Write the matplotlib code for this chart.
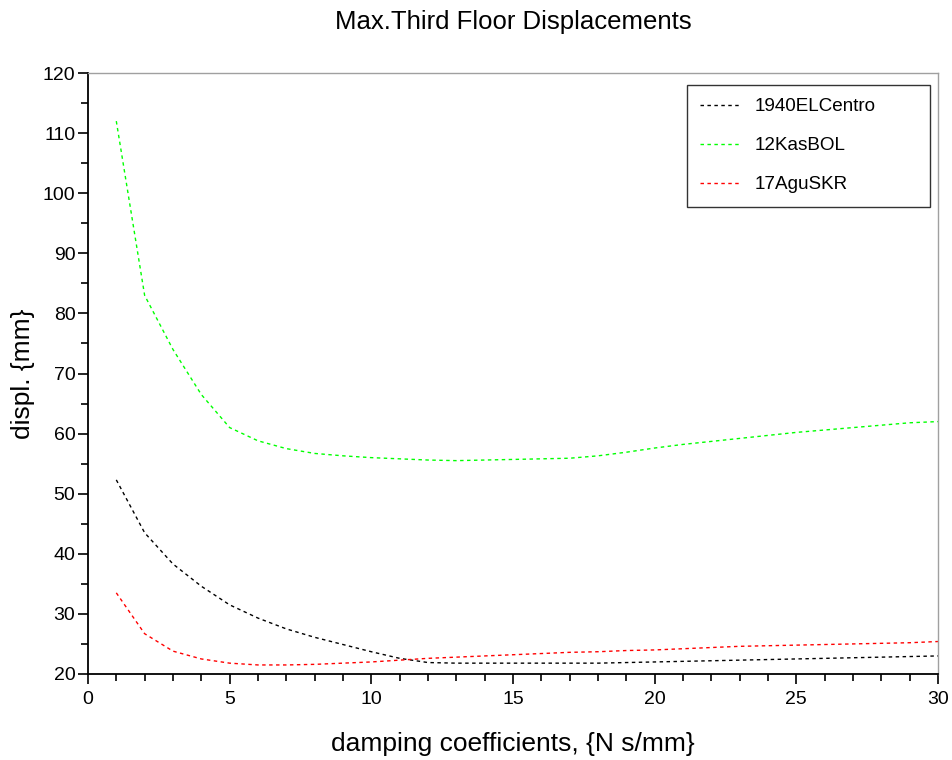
import matplotlib
matplotlib.use("Agg")
import matplotlib.pyplot as plt
from matplotlib.ticker import MultipleLocator

plt.rcParams['font.family'] = ['Liberation Sans', 'DejaVu Sans']

# damping coefficient, N s/mm
damping = list(range(1, 31))

# max third floor displacement, mm
elcentro = [52.3, 43.5, 38.3, 34.6, 31.5, 29.3, 27.5, 26.1, 24.9, 23.7,
            22.6, 21.9, 21.8, 21.8, 21.8, 21.8, 21.8, 21.8, 21.9, 22.0,
            22.1, 22.2, 22.3, 22.4, 22.5, 22.6, 22.7, 22.8, 22.9, 23.0]
kasbol = [112.0, 83.0, 74.0, 66.5, 61.0, 58.8, 57.5, 56.7, 56.3, 56.0,
          55.8, 55.6, 55.5, 55.6, 55.7, 55.8, 55.9, 56.3, 56.9, 57.6,
          58.2, 58.7, 59.2, 59.7, 60.2, 60.6, 61.0, 61.4, 61.8, 62.0]
agusKR = [33.5, 26.7, 23.8, 22.5, 21.8, 21.5, 21.5, 21.6, 21.8, 22.0,
          22.3, 22.6, 22.8, 23.0, 23.2, 23.4, 23.6, 23.7, 23.9, 24.0,
          24.2, 24.4, 24.6, 24.7, 24.8, 24.9, 25.0, 25.1, 25.2, 25.4]

labels = ['1940ELCentro', '12KasBOL', '17AguSKR']
colors = ['black', '#00ff00', '#ff0000']

fig = plt.figure(figsize=(9.53, 7.6), dpi=100)
ax = fig.add_axes([0.0923, 0.1132, 0.892, 0.7907])

for ys, lab, c in zip([elcentro, kasbol, agusKR], labels, colors):
    ax.plot(damping, ys, color=c, linestyle=(0, (2.5, 2.5)), linewidth=1.0, label=lab)

ax.set_xlim(0, 30)
ax.set_ylim(20, 120)
ax.xaxis.set_major_locator(MultipleLocator(5))
ax.xaxis.set_minor_locator(MultipleLocator(1))
ax.yaxis.set_major_locator(MultipleLocator(10))
ax.yaxis.set_minor_locator(MultipleLocator(5))
ax.tick_params(which='major', direction='out', length=7.5, width=1.2, labelsize=14)
ax.tick_params(which='minor', direction='out', length=5, width=1.2)
ax.tick_params(axis='x', which='major', pad=5)
ax.tick_params(axis='y', which='major', pad=1.5)
ax.tick_params(top=False, right=False)

for s in ['top', 'right']:
    ax.spines[s].set_color('#a0a0a0')
    ax.spines[s].set_linewidth(1.0)
for s in ['left', 'bottom']:
    ax.spines[s].set_linewidth(1.3)

ax.set_title('Max.Third Floor Displacements', fontsize=18.5, pad=32)
ax.set_xlabel('damping coefficients, {N s/mm}', fontsize=19, labelpad=17)
ax.set_ylabel('displ. {mm}', fontsize=19, labelpad=6)

leg = ax.legend(loc='upper left', bbox_to_anchor=(0.7047, 0.780, 0.2859, 0.200),
                mode='expand', fontsize=13.6, frameon=True, fancybox=False,
                handlelength=2.1, labelspacing=1.15, borderpad=0.7,
                handletextpad=0.8, borderaxespad=0)
leg.get_frame().set_edgecolor('black')
leg.get_frame().set_linewidth(1.0)

fig.savefig('out.png', dpi=100)
